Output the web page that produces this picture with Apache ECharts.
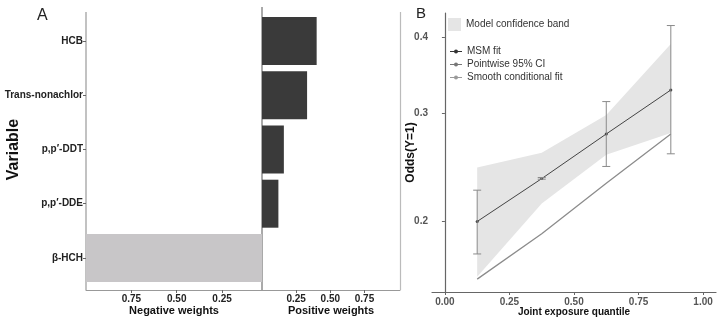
<!DOCTYPE html>
<html>
<head>
<meta charset="utf-8">
<script src="https://cdn.jsdelivr.net/npm/echarts@6/dist/echarts.min.js"></script>
<style>
  html, body { margin: 0; padding: 0; background: #fff; }
  #chart { width: 720px; height: 317px; }
</style>
</head>
<body>
<div id="chart"></div>
<script>
// panel A: weights
const categories = ['HCB', 'Trans-nonachlor', 'p,p\u2032-DDT', 'p,p\u2032-DDE', '\u03b2-HCH']
const negWeights = [null, null, null, null, 1.0]
const posWeights = [0.40, 0.33, 0.16, 0.12, null]
const weightTicks = [0.25, 0.5, 0.75]

// panel B: odds by joint exposure quantile
const quantiles = [0.125, 0.375, 0.625, 0.875]
const msmFit = [0.200, 0.235, 0.278, 0.328]
const ciLower = [0.177, 0.2345, 0.246, 0.258]
const ciUpper = [0.225, 0.236, 0.314, 0.418]
const bandLower = [0.1625, 0.214, 0.257, 0.279]
const bandUpper = [0.245, 0.259, 0.2985, 0.390]
const smoothFit = [0.161, 0.191, 0.231, 0.278]
const quantileTicks = [0, 0.25, 0.5, 0.75, 1]
const oddsTicks = [0.2, 0.3, 0.4]

const font = 'Liberation Sans, Arial, sans-serif'
const lineKey = 'path://M0,1.5h12v1H0z M6,0a2,2 0 1,1 0,4a2,2 0 1,1 0,-4z'

const pairs = ys => quantiles.map((x, i) => [x, ys[i]])

const weightAxis = (idx, opt) => Object.assign({
  type: 'value',
  gridIndex: idx,
  offset: 5,
  splitLine: {show: false},
  axisLine: {show: true, lineStyle: {color: '#999', width: 1}},
  axisTick: {show: true, length: 3, customValues: weightTicks, lineStyle: {color: '#666'}},
  axisLabel: {
    customValues: weightTicks,
    formatter: v => v.toFixed(2),
    fontSize: 10, fontWeight: 'bold', color: '#222', margin: 4
  },
  nameLocation: 'middle',
  nameGap: 15,
  nameMoveOverlap: false,
  nameTextStyle: {fontSize: 11, fontWeight: 'bold', color: '#111'}
}, opt)

const chart = echarts.init(document.getElementById('chart'), null, {renderer: 'canvas'})

chart.setOption({
  animation: false,
  backgroundColor: '#fff',
  textStyle: {fontFamily: font},
  title: [
    {text: 'A', left: 37, top: 8, padding: 0, textStyle: {fontSize: 16, fontWeight: 'normal', color: '#222', fontFamily: font}},
    {text: 'B', left: 416, top: 6, padding: 0, textStyle: {fontSize: 15, fontWeight: 'normal', color: '#222', fontFamily: font}}
  ],
  legend: [
    {
      data: [{name: 'Model confidence band', icon: 'rect', itemStyle: {color: '#e5e5e5'}}],
      left: 448, top: 18, padding: 0,
      itemWidth: 13, itemHeight: 13,
      textStyle: {fontSize: 10, color: '#333'}
    },
    {
      data: ['MSM fit', 'Pointwise 95% CI', 'Smooth conditional fit'],
      orient: 'vertical',
      left: 450, top: 45, padding: 0,
      icon: lineKey,
      itemWidth: 12, itemHeight: 4, itemGap: 0,
      textStyle: {fontSize: 10, color: '#333', lineHeight: 13}
    }
  ],
  graphic: [
    {type: 'line', shape: {x1: 86, y1: 12, x2: 86, y2: 290}, style: {stroke: '#999', lineWidth: 1.2}},
    {type: 'line', shape: {x1: 262, y1: 7, x2: 262, y2: 290}, style: {stroke: '#555', lineWidth: 1}},
    {type: 'line', shape: {x1: 400.5, y1: 12, x2: 400.5, y2: 290}, style: {stroke: '#bbb', lineWidth: 1.2}}
  ],
  grid: [
    {left: 86, top: 14, width: 176, height: 271, outerBoundsMode: 'none'},
    {left: 262, top: 14, width: 138, height: 271, outerBoundsMode: 'none'},
    {left: 432, top: 13, width: 284, bottom: 25, outerBoundsMode: 'none'}
  ],
  xAxis: [
    weightAxis(0, {inverse: true, min: 0.03, max: 1.0, name: 'Negative weights'}),
    weightAxis(1, {min: 0, max: 1.01, name: 'Positive weights'}),
    {
      type: 'value',
      gridIndex: 2,
      min: -0.05, max: 1.05,
      splitLine: {show: false},
      axisLine: {show: true, lineStyle: {color: '#666', width: 1.2}},
      axisTick: {show: true, length: 3, customValues: quantileTicks, lineStyle: {color: '#666'}},
      axisLabel: {
        customValues: quantileTicks,
        formatter: v => v.toFixed(2),
        fontSize: 10, fontWeight: 'bold', color: '#555', margin: 5
      },
      name: 'Joint exposure quantile',
      nameLocation: 'middle',
      nameGap: 15,
      nameMoveOverlap: false,
      nameTextStyle: {fontSize: 10, fontWeight: 'bold', color: '#111'}
    }
  ],
  yAxis: [
    {
      type: 'category',
      gridIndex: 0,
      data: categories,
      inverse: true,
      axisLine: {show: false},
      axisTick: {show: true, length: 3, alignWithLabel: true, lineStyle: {color: '#666'}},
      axisLabel: {fontSize: 10, fontWeight: 'bold', color: '#222', margin: 3},
      name: 'Variable',
      nameLocation: 'middle',
      nameGap: 64,
      nameMoveOverlap: false,
      nameTextStyle: {fontSize: 16, fontWeight: 'bold', color: '#111'}
    },
    {
      type: 'category',
      gridIndex: 1,
      data: categories,
      inverse: true,
      axisLine: {show: false},
      axisTick: {show: false},
      axisLabel: {show: false}
    },
    {
      type: 'log',
      gridIndex: 2,
      min: 0.1534, max: 0.4382,
      splitLine: {show: false},
      minorTick: {show: false},
      axisLine: {show: true, lineStyle: {color: '#666', width: 1.2}},
      axisTick: {show: true, length: 3, customValues: oddsTicks, lineStyle: {color: '#666'}},
      axisLabel: {
        customValues: oddsTicks,
        formatter: v => v.toFixed(1),
        fontSize: 10, fontWeight: 'bold', color: '#555', margin: 4
      },
      name: 'Odds(Y=1)',
      nameLocation: 'middle',
      nameGap: 15,
      nameMoveOverlap: false,
      nameTextStyle: {fontSize: 12, fontWeight: 'bold', color: '#111'}
    }
  ],
  series: [
    {
      name: 'negative',
      type: 'bar',
      xAxisIndex: 0, yAxisIndex: 0,
      data: negWeights,
      barWidth: 48,
      clip: true,
      itemStyle: {color: '#c8c6c8'}
    },
    {
      name: 'positive',
      type: 'bar',
      xAxisIndex: 1, yAxisIndex: 1,
      data: posWeights,
      barWidth: 48,
      clip: true,
      itemStyle: {color: '#3a3a3a'}
    },
    {
      // confidence band drawn as one polygon through the axis scales
      name: 'Model confidence band',
      type: 'custom',
      xAxisIndex: 2, yAxisIndex: 2,
      z: 1,
      silent: true,
      data: quantiles.map((x, i) => [x, bandLower[i], bandUpper[i]]),
      encode: {x: 0, y: [1, 2]},
      itemStyle: {color: '#e5e5e5'},
      renderItem: (params, api) => {
        if (params.dataIndex !== 0) return null
        const upper = quantiles.map((x, i) => api.coord([x, bandUpper[i]]))
        const lower = quantiles.map((x, i) => api.coord([x, bandLower[i]])).reverse()
        return {
          type: 'polygon',
          shape: {points: upper.concat(lower)},
          style: {fill: '#e5e5e5'}
        }
      }
    },
    {
      name: 'Smooth conditional fit',
      type: 'line',
      xAxisIndex: 2, yAxisIndex: 2,
      z: 3,
      data: pairs(smoothFit),
      symbol: 'none',
      itemStyle: {color: '#9a9a9a'},
      lineStyle: {color: '#8c8c8c', width: 1.3}
    },
    {
      name: 'MSM fit',
      type: 'line',
      xAxisIndex: 2, yAxisIndex: 2,
      z: 3,
      data: pairs(msmFit),
      symbol: 'circle',
      symbolSize: 3,
      itemStyle: {color: '#333'},
      lineStyle: {color: '#444', width: 1}
    },
    {
      name: 'Pointwise 95% CI',
      type: 'custom',
      xAxisIndex: 2, yAxisIndex: 2,
      z: 4,
      data: quantiles.map((x, i) => [x, ciLower[i], ciUpper[i]]),
      encode: {x: 0, y: [1, 2]},
      itemStyle: {color: '#777'},
      renderItem: (params, api) => {
        const top = api.coord([api.value(0), api.value(2)])
        const bot = api.coord([api.value(0), api.value(1)])
        const w = 4
        return {
          type: 'group',
          children: [
            {type: 'line', shape: {x1: top[0], y1: top[1], x2: bot[0], y2: bot[1]}, style: {stroke: '#8a8a8a', lineWidth: 1}},
            {type: 'line', shape: {x1: top[0] - w, y1: top[1], x2: top[0] + w, y2: top[1]}, style: {stroke: '#8a8a8a', lineWidth: 1}},
            {type: 'line', shape: {x1: bot[0] - w, y1: bot[1], x2: bot[0] + w, y2: bot[1]}, style: {stroke: '#8a8a8a', lineWidth: 1}}
          ]
        }
      }
    }
  ]
})
</script>
</body>
</html>
